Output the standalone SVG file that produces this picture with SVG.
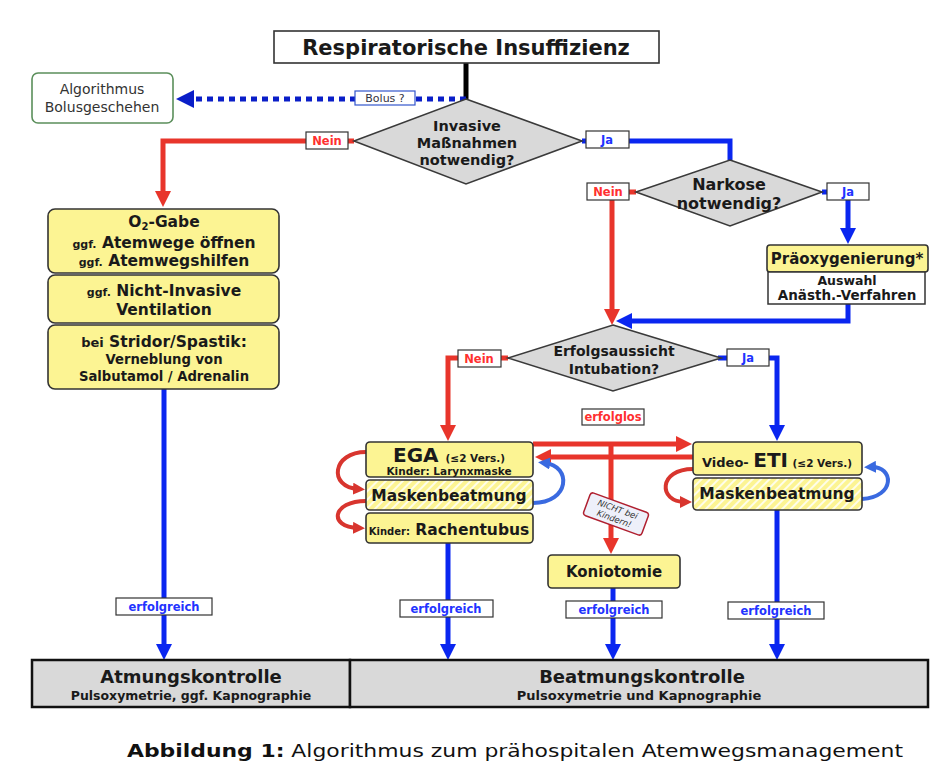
<svg xmlns="http://www.w3.org/2000/svg" width="950" height="778" viewBox="0 0 950 778">
<style>
text{font-family:"DejaVu Sans","Liberation Sans",sans-serif;font-weight:bold;fill:#1a1a1a;text-anchor:middle}
.ybox{fill:#fcf493;stroke:#333;stroke-width:1.6}
.hbox{fill:url(#hatch);stroke:#333;stroke-width:1.6}
.dia{fill:#d9d9d9;stroke:#3a3a3a;stroke-width:1.6}
.lbl{fill:#fff;stroke:#333;stroke-width:1.2}
.lr{font-size:11.5px;fill:#ff3030}
.lb{font-size:11.5px;fill:#2233ff}
.cr{fill:none;stroke:#e8352b;stroke-width:5}
.cb{fill:none;stroke:#0a26f0;stroke-width:5}
.kr{fill:none;stroke:#d8352e;stroke-width:4}
.kb{fill:none;stroke:#3a6ae0;stroke-width:4}
.gray{fill:#d9d9d9;stroke:#111;stroke-width:2.5}
</style>
<defs>
<pattern id="hatch" patternUnits="userSpaceOnUse" width="6" height="6" patternTransform="rotate(45)">
<rect width="6" height="6" fill="#fcf493"/>
<rect width="2" height="6" fill="#ffffff" opacity="0.8"/>
</pattern>
<marker id="ab" viewBox="0 0 16 16" refX="8" refY="8" markerWidth="16" markerHeight="16" markerUnits="userSpaceOnUse" orient="auto"><path d="M0,0 L16,8 L0,16 z" fill="#0a26f0"/></marker>
<marker id="ar" viewBox="0 0 16 16" refX="8" refY="8" markerWidth="16" markerHeight="16" markerUnits="userSpaceOnUse" orient="auto"><path d="M0,0 L16,8 L0,16 z" fill="#e8352b"/></marker>
<marker id="ad" viewBox="0 0 18 18" refX="8" refY="9" markerWidth="18" markerHeight="18" markerUnits="userSpaceOnUse" orient="auto"><path d="M0,0 L18,9 L0,18 z" fill="#0a1ec8"/></marker>
<marker id="sr" viewBox="0 0 12 12" refX="5" refY="6" markerWidth="12" markerHeight="12" markerUnits="userSpaceOnUse" orient="auto"><path d="M0,0 L12,6 L0,12 z" fill="#d8352e"/></marker>
<marker id="sb" viewBox="0 0 12 12" refX="5" refY="6" markerWidth="12" markerHeight="12" markerUnits="userSpaceOnUse" orient="auto"><path d="M0,0 L12,6 L0,12 z" fill="#3a6ae0"/></marker>
</defs>
<rect width="950" height="778" fill="#fff"/>

<g id="connectors">
<path d="M466,63 V99" fill="none" stroke="#000" stroke-width="5"/>
<path d="M466,99 H186" fill="none" stroke="#0a1ec8" stroke-width="5" stroke-dasharray="6,5" marker-end="url(#ad)"/>
<path class="cr" d="M354,141 H163 V199" marker-end="url(#ar)"/>
<path class="cb" d="M582,141 H730 V160"/>
<path class="cr" d="M636,192 H612 V317" marker-end="url(#ar)"/>
<path class="cb" d="M822,192 H848 V236" marker-end="url(#ab)"/>
<path class="cb" d="M848,304 V321 H624" marker-end="url(#ab)"/>
<path class="cr" d="M508,358 H448 V433" marker-end="url(#ar)"/>
<path class="cb" d="M718,358 H777 V433" marker-end="url(#ab)"/>
<path class="cr" d="M533,444 H684" marker-end="url(#ar)"/>
<path class="cr" d="M693,457 H543" marker-end="url(#ar)"/>
<path class="cr" d="M611,444 V546" marker-end="url(#ar)"/>
<path class="cb" d="M164,389 V652" marker-end="url(#ab)"/>
<path class="cb" d="M448,543 V652" marker-end="url(#ab)"/>
<path class="cb" d="M613,588 V652" marker-end="url(#ab)"/>
<path class="cb" d="M777,510 V652" marker-end="url(#ab)"/>
<path class="kr" d="M366,452 C332,452 328,487 358,489" marker-end="url(#sr)"/>
<path class="kr" d="M366,501 C332,501 328,527 358,528" marker-end="url(#sr)"/>
<path class="kb" d="M533,503 C570,503 572,466 545,463" marker-end="url(#sb)"/>
<path class="kr" d="M693,469 C658,469 658,502 685,502" marker-end="url(#sr)"/>
<path class="kb" d="M862,499 C896,497 894,466 871,467" marker-end="url(#sb)"/>

<rect class="lbl" x="355" y="91" width="60" height="14" style="stroke:#3355cc"/>
<text x="385" y="102" style="font-size:11px;font-weight:normal;fill:#334">Bolus ?</text>
<rect class="lbl" x="306" y="132" width="42" height="17"/><text class="lr" x="327" y="145">Nein</text>
<rect class="lbl" x="586" y="131" width="43" height="17"/><text class="lb" x="607" y="144">Ja</text>
<rect class="lbl" x="587" y="183" width="42" height="17"/><text class="lr" x="608" y="196">Nein</text>
<rect class="lbl" x="827" y="183" width="42" height="17"/><text class="lb" x="848" y="196">Ja</text>
<rect class="lbl" x="458" y="350" width="43" height="17"/><text class="lr" x="479" y="363">Nein</text>
<rect class="lbl" x="727" y="349" width="42" height="17"/><text class="lb" x="748" y="362">Ja</text>
<rect class="lbl" x="582" y="409" width="62" height="16"/><text class="lr" x="613" y="421">erfolglos</text>
<rect class="lbl" x="116" y="598" width="96" height="17"/><text class="lb" x="164" y="611">erfolgreich</text>
<rect class="lbl" x="400" y="600" width="93" height="17"/><text class="lb" x="446" y="613">erfolgreich</text>
<rect class="lbl" x="566" y="601" width="96" height="17"/><text class="lb" x="614" y="614">erfolgreich</text>
<rect class="lbl" x="728" y="602" width="96" height="17"/><text class="lb" x="776" y="615">erfolgreich</text>
<g transform="translate(616,514) rotate(20)">
<rect x="-31" y="-12" width="62" height="24" rx="3" fill="#eef0fa" stroke="#b02030" stroke-width="1.5"/>
<text x="0" y="-2" style="font-size:8.5px;font-weight:normal;font-style:italic;fill:#333">NICHT bei</text>
<text x="0" y="8" style="font-size:8.5px;font-weight:normal;font-style:italic;fill:#333">Kindern!</text>
</g>
</g>

<g id="title">
<rect x="274" y="31" width="385" height="32" fill="#fff" stroke="#333" stroke-width="1.6"/>
<text x="466" y="55" style="font-size:21px">Respiratorische Insuffizienz</text>
</g>

<g id="bolus-algo">
<rect x="32" y="73" width="141" height="50" rx="6" fill="#fff" stroke="#5b8f5b" stroke-width="1.6"/>
<text x="102" y="94" style="font-size:14px;font-weight:normal;fill:#333">Algorithmus</text>
<text x="102" y="112" style="font-size:14px;font-weight:normal;fill:#333">Bolusgeschehen</text>
</g>

<g id="d-invasive">
<polygon class="dia" points="466,99 582,141 466,184 354,141"/>
<text x="467" y="131" style="font-size:14.5px">Invasive</text>
<text x="467" y="148" style="font-size:14.5px">Maßnahmen</text>
<text x="467" y="165" style="font-size:14.5px">notwendig?</text>
</g>

<g id="d-narkose">
<polygon class="dia" points="730,160 822,192 730,226 636,192"/>
<text x="729" y="190" style="font-size:16px">Narkose</text>
<text x="729" y="209" style="font-size:16px">notwendig?</text>
</g>

<g id="praeox">
<rect class="ybox" x="767" y="245" width="161" height="27" rx="3"/>
<text x="847" y="264" style="font-size:15px">Präoxygenierung*</text>
<rect x="768" y="272" width="157" height="32" fill="#fff" stroke="#333" stroke-width="1.5"/>
<text x="847" y="285" style="font-size:12.5px">Auswahl</text>
<text x="847" y="300" style="font-size:13.5px">Anästh.-Verfahren</text>
</g>

<g id="d-intubation">
<polygon class="dia" points="613,325 721,358 613,391 508,358"/>
<text x="614" y="356" style="font-size:14px">Erfolgsaussicht</text>
<text x="614" y="374" style="font-size:14px">Intubation?</text>
</g>

<g id="o2">
<rect class="ybox" x="48" y="209" width="231" height="64" rx="7"/>
<text x="164" y="227" style="font-size:15.5px">O<tspan style="font-size:10px" dy="3">2</tspan><tspan dy="-3">-Gabe</tspan></text>
<text x="164" y="248" style="font-size:15.5px"><tspan style="font-size:11px">ggf.</tspan> Atemwege öffnen</text>
<text x="164" y="266" style="font-size:15.5px"><tspan style="font-size:11px">ggf.</tspan> Atemwegshilfen</text>
</g>
<g id="niv">
<rect class="ybox" x="48" y="275" width="231" height="48" rx="7"/>
<text x="164" y="296" style="font-size:15.5px"><tspan style="font-size:11px">ggf.</tspan> Nicht-Invasive</text>
<text x="164" y="315" style="font-size:15.5px">Ventilation</text>
</g>
<g id="stridor">
<rect class="ybox" x="48" y="325" width="231" height="64" rx="7"/>
<text x="164" y="347" style="font-size:15.5px"><tspan style="font-size:13px">bei</tspan> Stridor/Spastik:</text>
<text x="164" y="364" style="font-size:13.2px">Verneblung von</text>
<text x="164" y="381" style="font-size:13.2px">Salbutamol / Adrenalin</text>
</g>

<g id="ega">
<rect class="ybox" x="366" y="442" width="167" height="35" rx="4"/>
<text x="449" y="462" style="font-size:20px">EGA <tspan style="font-size:10.5px">(≤2 Vers.)</tspan></text>
<text x="449" y="475" style="font-size:10.5px">Kinder: Larynxmaske</text>
</g>
<g id="masken-l">
<rect class="hbox" x="366" y="480" width="167" height="30" rx="4"/>
<text x="449" y="501" style="font-size:15.5px">Maskenbeatmung</text>
</g>
<g id="rachentubus">
<rect class="ybox" x="366" y="513" width="167" height="30" rx="4"/>
<text x="449" y="535" style="font-size:15.5px"><tspan style="font-size:10px">Kinder:</tspan> Rachentubus</text>
</g>

<g id="video-eti">
<rect class="ybox" x="693" y="442" width="169" height="33" rx="4"/>
<text x="777" y="467" style="font-size:13px">Video-  <tspan style="font-size:20px">ETI</tspan> <tspan style="font-size:10.5px">(≤2 Vers.)</tspan></text>
</g>
<g id="masken-r">
<rect class="hbox" x="693" y="478" width="169" height="32" rx="4"/>
<text x="777" y="499" style="font-size:15.5px">Maskenbeatmung</text>
</g>

<g id="koniotomie">
<rect class="ybox" x="548" y="555" width="132" height="33" rx="4"/>
<text x="614" y="577" style="font-size:15px">Koniotomie</text>
</g>

<g id="atmungskontrolle">
<rect class="gray" x="32" y="660" width="318" height="47"/>
<text x="191" y="683" style="font-size:18px">Atmungskontrolle</text>
<text x="191" y="700" style="font-size:12.5px">Pulsoxymetrie, ggf. Kapnographie</text>
</g>
<g id="beatmungskontrolle">
<rect class="gray" x="350" y="660" width="578" height="47"/>
<text x="642" y="683" style="font-size:18px">Beatmungskontrolle</text>
<text x="639" y="700" style="font-size:13px">Pulsoxymetrie und Kapnographie</text>
</g>

<text x="127" y="757" textLength="776" lengthAdjust="spacingAndGlyphs" style="font-size:18px;text-anchor:start;font-weight:normal;fill:#111"><tspan style="font-weight:bold">Abbildung 1:</tspan> Algorithmus zum prähospitalen Atemwegsmanagement</text>
</svg>
